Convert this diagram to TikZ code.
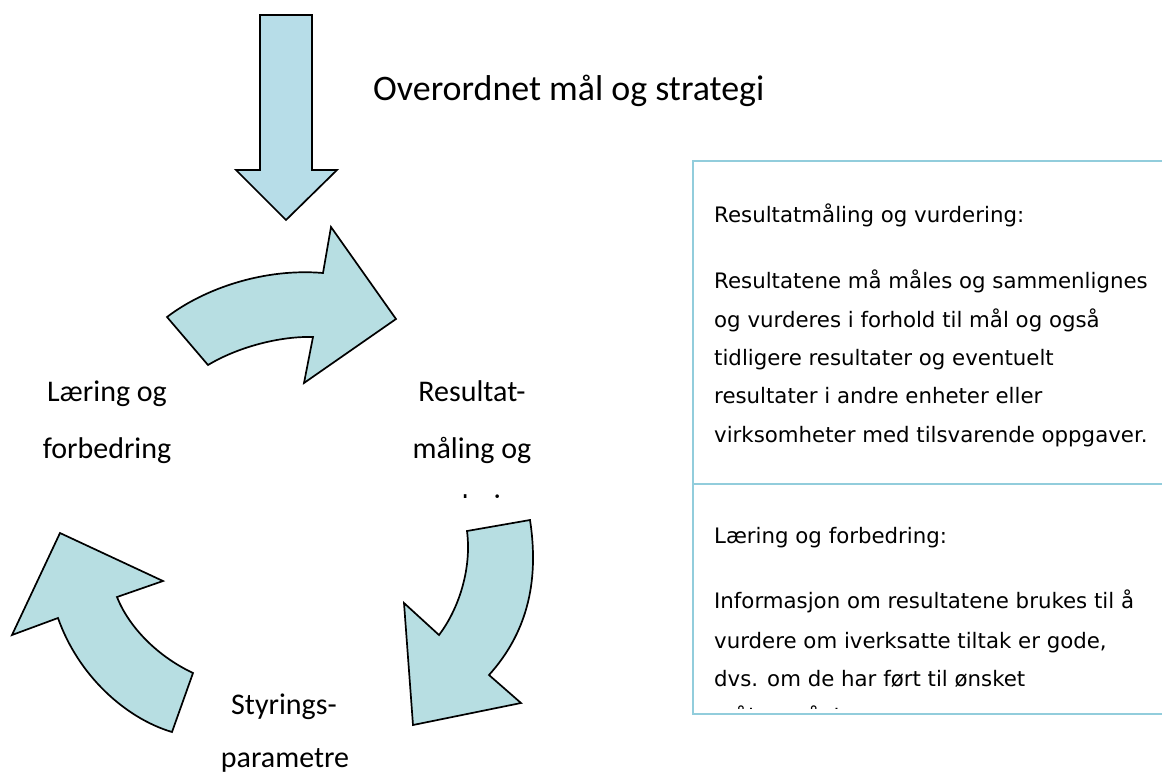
\documentclass[tikz,border=0pt]{standalone}
\usepackage{fontspec}
\newfontfamily\labelfont{Carlito}
\newfontfamily\notefont{DejaVu Sans}
\definecolor{arrowfill}{RGB}{183,222,226}
\definecolor{downfill}{RGB}{183,221,232}
\definecolor{tablerule}{RGB}{146,205,220}
\begin{document}
\begin{tikzpicture}[x=1pt,y=-1pt,
  bentarrow/.style={draw=black, line width=1.7pt, line join=miter, fill=arrowfill},
  lbl/.style={font=\labelfont\fontsize{30}{36}\selectfont, anchor=base, inner sep=0pt},
  heading/.style={font=\labelfont\fontsize{35.9}{42}\selectfont, anchor=base west, inner sep=0pt},
  notetext/.style={font=\notefont\fontsize{21.3}{25}\selectfont, anchor=base west, inner sep=0pt},
  tableline/.style={draw=tablerule, line width=2pt}]
\useasboundingbox (0,0) rectangle (1162,777);

% straight arrow from the top
\draw[bentarrow, fill=downfill] (260,15) -- (312,15) -- (312,170) -- (337,170)
  -- (286,220) -- (236,170) -- (260,170) -- cycle;
\node[heading] (goal) at (373,100) {Overordnet mål og strategi};

% cycle of three curved arrows
\draw[bentarrow] (167,317) .. controls (205,288) and (265,268) .. (323,273)
  -- (331,227) -- (396,319) -- (304,383) -- (313,337)
  .. controls (280,336) and (238,347) .. (208,365) -- cycle;
\draw[bentarrow] (467,531) -- (530,520)
  .. controls (540,585) and (525,635) .. (489,675)
  -- (521,703) -- (413,725) -- (404,603) -- (439,635)
  .. controls (458,610) and (472,570) .. (467,531) -- cycle;
\draw[bentarrow] (60,533) -- (163,581) -- (117,597)
  .. controls (128,625) and (155,655) .. (193,673)
  -- (172,732) .. controls (125,718) and (78,675) .. (58,618)
  -- (12,635) -- cycle;

% labels of the cycle
\node[lbl] (learnA) at (107,401) {Læring og};
\node[lbl] (learnB) at (107,458) {forbedring};
\node[lbl] (resA) at (472,401) {Resultat-};
\node[lbl] (resB) at (472,458) {måling og};
\begin{scope}
  \clip (380,470) rectangle (580,497);
  \node[lbl] (resC) at (472,515) {vurdering};
\end{scope}
\node[lbl] (ctrlA) at (284,714) {Styrings-};
\node[lbl] (ctrlB) at (285,767) {parametre};

% explanation table on the right
\draw[tableline] (1162,161) -- (693,161) -- (693,714) -- (1162,714);
\draw[tableline] (693,484) -- (1162,484);
\node[notetext] (t1) at (714,222) {Resultatmåling og vurdering:};
\node[notetext] (t2) at (714,288) {Resultatene må måles og sammenlignes};
\node[notetext] (t3) at (714,327) {og vurderes i forhold til mål og også};
\node[notetext] (t4) at (714,365) {tidligere resultater og eventuelt};
\node[notetext] (t5) at (714,403) {resultater i andre enheter eller};
\node[notetext] (t6) at (714,442) {virksomheter med tilsvarende oppgaver.};
\node[notetext] (u1) at (714,543) {Læring og forbedring:};
\node[notetext] (u2) at (714,608) {Informasjon om resultatene brukes til å};
\node[notetext] (u3) at (714,648) {vurdere om iverksatte tiltak er gode,};
\node[notetext] (u4) at (714,686) {dvs. om de har ført til ønsket};
\begin{scope}
  \clip (700,690) rectangle (1160,708);
  \node[notetext] (u5) at (714,724) {måloppnåelse.};
\end{scope}
\end{tikzpicture}
\end{document}
